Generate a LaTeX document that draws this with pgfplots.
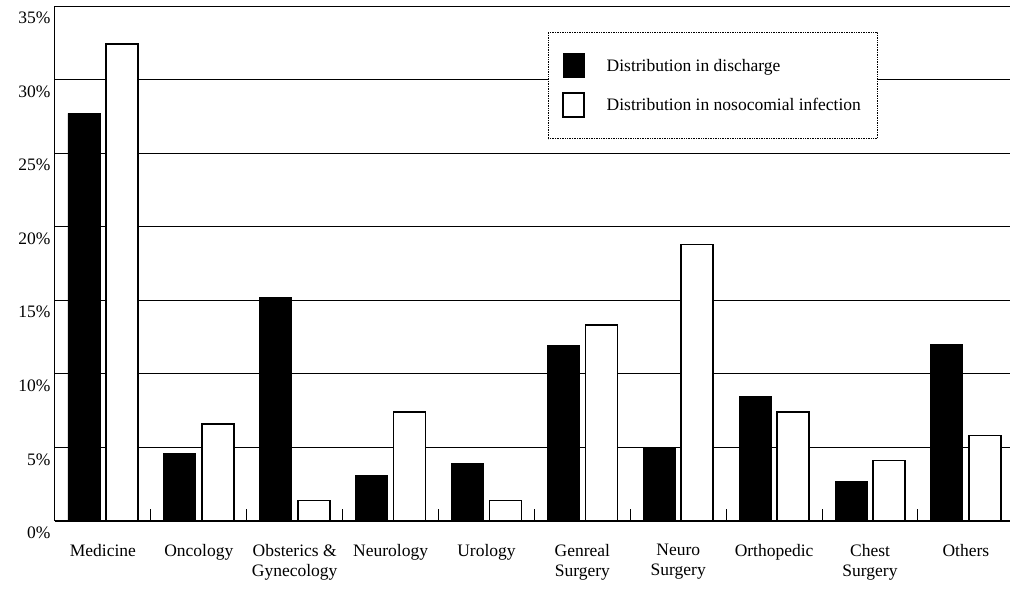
\documentclass[border=0pt]{standalone}
\usepackage{pgfplots}
\pgfplotsset{compat=1.18}
\usepackage{fontspec}
\setmainfont{Liberation Serif}
\begin{document}
\begin{tikzpicture}
\begin{axis}[
  scale only axis,
  width=955pt, height=515pt,
  xmin=-0.5, xmax=9.46,
  ymin=0, ymax=35,
  axis x line*=bottom,
  axis y line*=left,
  axis line style={line width=1pt, -},
  ytick={0,5,...,35},
  yticklabels={0\%,5\%,10\%,15\%,20\%,25\%,30\%,35\%},
  ymajorgrids,
  grid style={black, line width=0.8pt},
  ytick style={draw=none},
  yticklabel style={font=\fontsize{17.5}{19}\selectfont, yshift=-12pt, xshift=-1pt},
  xtick={0,...,9},
  xticklabels={Medicine, Oncology, Obsterics \&\\Gynecology, Neurology, Urology, Genreal\\Surgery, Neuro\\Surgery, Orthopedic, Chest\\Surgery, Others},
  xticklabel style={font=\fontsize{17.5}{20}\selectfont, align=center, yshift=-20pt},
  major tick length=0pt,
  xtick align=inside,
  xtick style={draw=black, line width=1pt},
  extra x ticks={0.5,1.5,...,8.5},
  extra x tick labels={},
  extra x tick style={major tick length=12pt},
  legend style={at={(0.516,0.9495)}, anchor=north west, draw=black, densely dotted, line width=0.7pt,
    font=\fontsize{17.5}{20}\selectfont, inner xsep=14pt, inner ysep=21pt, row sep=14pt,
    /tikz/every odd column/.append style={column sep=20pt},
    /tikz/every even column/.append style={column sep=10pt}},
  legend cell align=left,
  legend image code/.code={\draw[#1, solid] (0pt,-12pt) rectangle (21pt,12pt);},
]
\addplot[ybar, bar width=32pt, bar shift=-19pt, fill=black, draw=black, line width=0.8pt]
  coordinates {(0,27.7) (1,4.6) (2,15.2) (3,3.1) (4,3.9) (5,11.9) (6,4.9) (7,8.45) (8,2.7) (9,12.0)};
\addlegendentry{Distribution in discharge}
\addplot[ybar, bar width=32pt, bar shift=19pt, fill=white, draw=black, line width=1.6pt]
  coordinates {(0,32.4) (1,6.6) (2,1.4) (3,7.4) (4,1.4) (5,13.3) (6,18.8) (7,7.4) (8,4.1) (9,5.8)};
\addlegendentry{Distribution in nosocomial infection}
\end{axis}
\pgfresetboundingbox
\path (-55pt,-75pt) rectangle (955pt,521pt);
\end{tikzpicture}
\end{document}
